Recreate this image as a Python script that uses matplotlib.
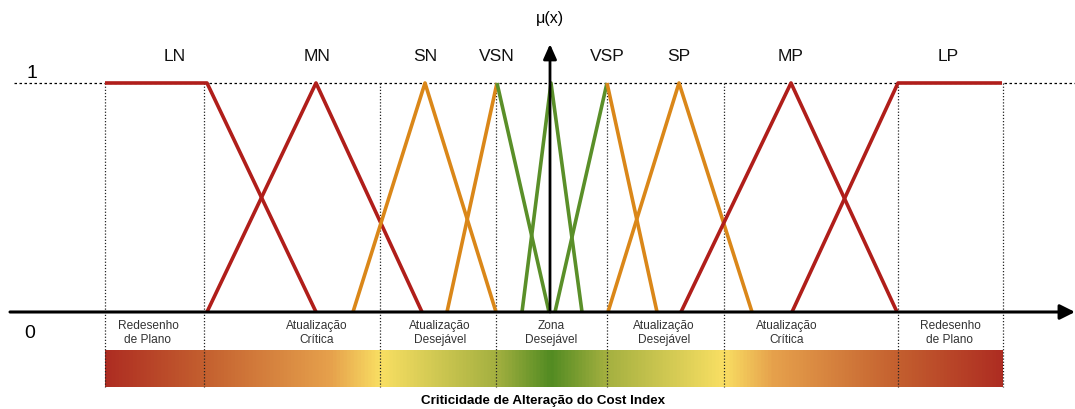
import numpy as np
import matplotlib.pyplot as plt
from matplotlib.colors import LinearSegmentedColormap

plt.rcParams['font.family'] = ['Liberation Sans', 'DejaVu Sans']

# x in chart units (left edge 0, right edge 1075), y = membership degree
labels = ['LN', 'MN', 'SN', 'VSN', 'VSP', 'SP', 'MP', 'LP']
label_x = [175, 317, 425, 497, 607, 679, 791, 948]

# membership segments: (x points, mu points, colour key)
segments = [
    ([105, 207, 316], [1, 1, 0], 'red'),        # LN
    ([207, 316, 422], [0, 1, 0], 'red'),        # MN
    ([353, 425, 496], [0, 1, 0], 'orange'),     # SN
    ([447, 497], [0, 1], 'orange'),             # VSN left
    ([497, 549], [1, 0], 'green'),              # VSN right
    ([522, 551, 582], [0, 1, 0], 'green'),      # Z
    ([555, 607], [0, 1], 'green'),              # VSP left
    ([607, 657], [1, 0], 'orange'),             # VSP right
    ([608, 679, 752], [0, 1, 0], 'orange'),     # SP
    ([681, 791, 897], [0, 1, 0], 'red'),        # MP
    ([792, 898, 1002], [0, 1, 1], 'red'),       # LP
]
colours = {'red': '#B01E1A', 'orange': '#DA8719', 'green': '#5A8F29'}

zone_bounds = [105, 204, 380, 496, 607, 724, 898, 1003]
zone_text = ['Redesenho\nde Plano', 'Atualização\nCrítica', 'Atualização\nDesejável',
             'Zona\nDesejável', 'Atualização\nDesejável', 'Atualização\nCrítica',
             'Redesenho\nde Plano']
zone_text_x = [148, 317, 440, 551, 664, 787, 950]

grad_pos = [105, 204, 330, 380, 496, 551, 607, 724, 774, 898, 1003]
grad_col = ['#AE2D22', '#C4602F', '#E6A14C', '#F9DF63', '#A4B040', '#528B22',
            '#A4B040', '#F9DF63', '#E6A14C', '#C4602F', '#AE2D22']

fig = plt.figure(figsize=(10.75, 4.1), dpi=100)
ax = fig.add_axes([0, 0, 1, 1])
ax.set_xlim(0, 1075)
ax.set_ylim(-0.4236, 1.3668)
ax.axis('off')

# dashed line at mu = 1
ax.plot([14, 1075], [1, 1], color='black', lw=0.9, ls=(0, (2, 2)), zorder=1)

# dotted zone separators
for xb in zone_bounds:
    ax.plot([xb, xb], [1, -0.328], color='#222222', lw=0.9, ls=(0, (1, 1.5)), zorder=1)

# gradient bar
lo, hi = grad_pos[0], grad_pos[-1]
cmap = LinearSegmentedColormap.from_list(
    'crit', [((p - lo) / (hi - lo), c) for p, c in zip(grad_pos, grad_col)])
grad = np.linspace(0, 1, 512).reshape(1, -1)
ax.imshow(grad, cmap=cmap, aspect='auto', extent=(lo, hi, -0.328, -0.170), zorder=0)

# membership functions
for xs, ys, c in segments:
    ax.plot(xs, ys, color=colours[c], lw=2.6, solid_capstyle='butt', zorder=3)

# axes with arrows
ax.annotate('', xy=(1075, 0), xytext=(10, 0),
            arrowprops=dict(arrowstyle='-|>,head_length=0.9,head_width=0.45',
                            color='black', lw=2.2, shrinkA=0, shrinkB=0), zorder=4)
ax.annotate('', xy=(550, 1.17), xytext=(550, 0),
            arrowprops=dict(arrowstyle='-|>,head_length=0.9,head_width=0.4',
                            color='black', lw=2.0, shrinkA=0, shrinkB=0), zorder=4)

for name, x in zip(labels, label_x):
    ax.text(x, 1.118, name, ha='center', va='center', fontsize=12.5, color='#111111')

for t, x in zip(zone_text, zone_text_x):
    ax.text(x, -0.088, t, ha='center', va='center', fontsize=8.6, color='#333333',
            linespacing=1.25)

ax.text(550, 1.288, 'μ(x)', ha='center', va='center', fontsize=11.5)
ax.text(32, 1.045, '1', ha='center', va='center', fontsize=14)
ax.text(30, -0.088, '0', ha='center', va='center', fontsize=14)
ax.text(543, -0.384, 'Criticidade de Alteração do Cost Index', ha='center', va='center',
        fontsize=9.6, fontweight='bold')

fig.savefig('out.png', dpi=100)
